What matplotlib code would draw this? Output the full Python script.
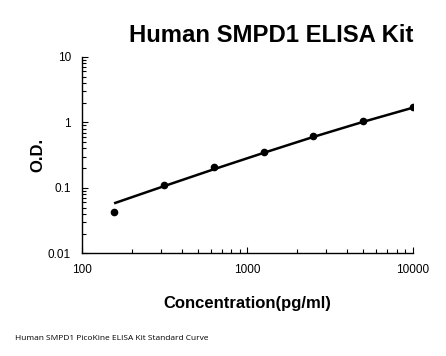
import numpy as np
import matplotlib.pyplot as plt
from matplotlib.ticker import LogLocator, NullFormatter, FixedLocator

conc = [156.25, 312.5, 625, 1250, 2500, 5000, 10000]
od = [0.0425, 0.111, 0.205, 0.347, 0.622, 1.05, 1.72]
# standard curve
fit_od = [0.058, 0.106, 0.192, 0.342, 0.600, 1.02, 1.68]

xticks = [100, 1000, 10000]
yticks = [0.01, 0.1, 1, 10]
ytick_labels = ['0.01', '0.1', '1', '10']

plt.rcParams['font.family'] = ['Liberation Sans', 'DejaVu Sans']

fig = plt.figure(figsize=(4.46, 3.56), dpi=100)
ax = fig.add_axes([0.1839, 0.2885, 0.742, 0.5515])

ax.plot(conc, fit_od, color='black', lw=1.8, solid_capstyle='butt')
ax.plot(conc, od, 'o', color='black', ms=4.5)

ax.set_xscale('log')
ax.set_yscale('log')
ax.set_xlim(100, 10000)
ax.set_ylim(0.01, 10)

ax.xaxis.set_major_locator(FixedLocator(xticks))
ax.set_xticklabels([str(t) for t in xticks])
ax.yaxis.set_major_locator(FixedLocator(yticks))
ax.set_yticklabels(ytick_labels)
ax.xaxis.set_minor_locator(LogLocator(base=10, subs=np.arange(2, 10)))
ax.yaxis.set_minor_locator(LogLocator(base=10, subs=np.arange(2, 10)))
ax.xaxis.set_minor_formatter(NullFormatter())
ax.yaxis.set_minor_formatter(NullFormatter())

for s in ['top', 'right']:
    ax.spines[s].set_visible(False)
for s in ['left', 'bottom']:
    ax.spines[s].set_linewidth(1.0)

ax.tick_params(which='both', direction='in', width=0.8, labelsize=8.5, pad=8)
ax.tick_params(which='major', length=4.5)
ax.tick_params(which='minor', length=3)

fig.text(0.608, 0.90, 'Human SMPD1 ELISA Kit', ha='center', va='center',
         fontsize=17.2, fontweight='bold')
ax.set_ylabel('O.D.', fontsize=12, fontweight='bold', labelpad=1.5)
ax.set_xlabel('Concentration(pg/ml)', fontsize=12, fontweight='bold', labelpad=14)

fig.text(0.034, 0.05, 'Human SMPD1 PicoKine ELISA Kit Standard Curve',
         fontsize=6, family=['Open Sans', 'DejaVu Sans'], va='center')

fig.savefig('out.png', dpi=100)
